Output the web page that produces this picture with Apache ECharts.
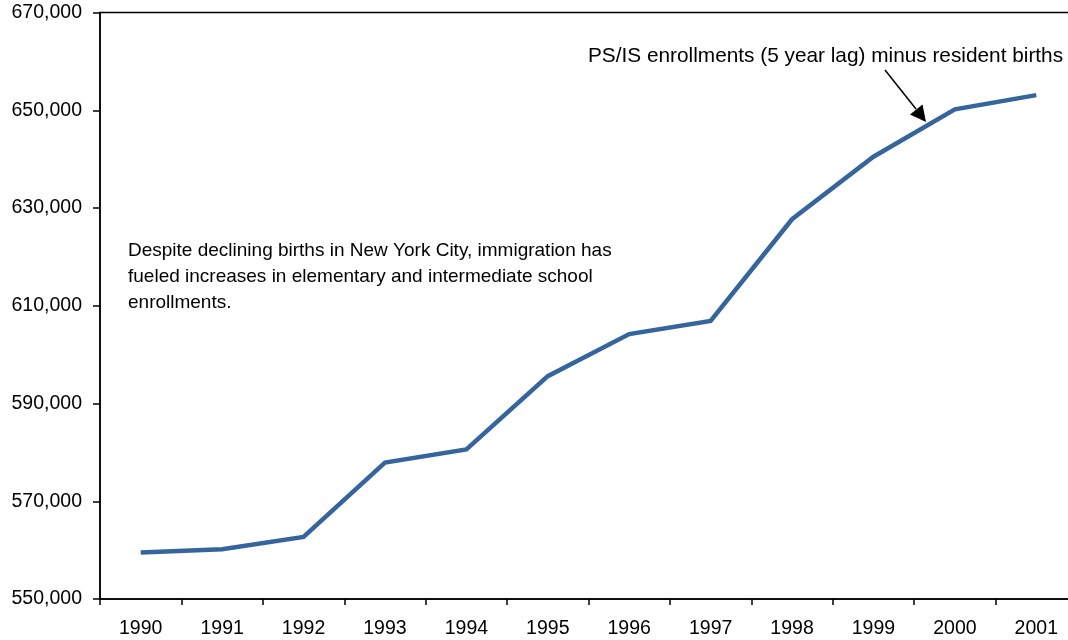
<!DOCTYPE html>
<html>
<head>
<meta charset="utf-8">
<script src="https://cdn.jsdelivr.net/npm/echarts@6/dist/echarts.min.js"></script>
<style>
  html, body { margin: 0; padding: 0; background: #fff; }
  #chart { width: 1068px; height: 640px; }
</style>
</head>
<body>
<div id="chart"></div>
<script>
// Data
const years = ['1990', '1991', '1992', '1993', '1994', '1995', '1996', '1997', '1998', '1999', '2000', '2001'];
const enrollmentsMinusBirths = [559500, 560200, 562700, 577900, 580600, 595600, 604200, 606900, 627700, 640500, 650200, 653100];
const yTicks = [550000, 570000, 590000, 610000, 630000, 650000, 670000];

const fontFamily = '"Liberation Sans", Arial, sans-serif';

const chart = echarts.init(document.getElementById('chart'), null, { renderer: 'canvas' });

const option = {
  animation: false,
  backgroundColor: '#fff',
  grid: {
    left: 100,
    top: 12.5,
    width: 977,
    height: 586.5,
    outerBoundsMode: 'none',
    containLabel: false,
    show: true,
    borderColor: '#000',
    borderWidth: 1.5,
    backgroundColor: 'transparent',
  },
  xAxis: {
    type: 'category',
    data: years,
    boundaryGap: true,
    axisLine: { lineStyle: { color: '#000', width: 1.5 } },
    axisTick: { show: true, length: 6, interval: 0, lineStyle: { color: '#000', width: 1.5 } },
    axisLabel: { color: '#000', fontSize: 19.5, fontFamily, margin: 20, interval: 0 },
    splitLine: { show: false },
  },
  yAxis: {
    type: 'value',
    min: yTicks[0],
    max: yTicks[yTicks.length - 1],
    axisLine: { show: true, lineStyle: { color: '#000', width: 1.5 } },
    axisTick: { show: true, length: 7, customValues: yTicks, lineStyle: { color: '#000', width: 1.5 } },
    axisLabel: {
      color: '#000',
      fontSize: 19.5,
      fontFamily,
      margin: 18,
      customValues: yTicks,
      formatter: (v) => v.toLocaleString('en-US'),
    },
    splitLine: { show: false },
  },
  series: [
    {
      name: 'PS/IS enrollments (5 year lag) minus resident births',
      type: 'line',
      data: enrollmentsMinusBirths,
      showSymbol: false,
      symbol: 'none',
      lineStyle: { color: '#35659c', width: 4.5, join: 'miter' },
      z: 3,
    },
  ],
  graphic: [
    {
      type: 'text',
      left: 128,
      top: 238,
      style: {
        text: 'Despite declining births in New York City, immigration has\nfueled increases in elementary and intermediate school\nenrollments.',
        fontSize: 19,
        fontFamily,
        fill: '#000',
        lineHeight: 26,
      },
    },
    {
      type: 'text',
      left: 588,
      top: 46,
      style: {
        text: 'PS/IS enrollments (5 year lag) minus resident births',
        fontSize: 20.8,
        fontFamily,
        fill: '#000',
      },
    },
    // annotation arrow
    {
      type: 'line',
      shape: { x1: 885, y1: 70, x2: 916, y2: 109 },
      style: { stroke: '#000', lineWidth: 1.5 },
    },
    {
      type: 'polygon',
      shape: { points: [[926, 122], [910, 114.5], [922.5, 104.5]] },
      style: { fill: '#000' },
    },
  ],
};

chart.setOption(option);
</script>
</body>
</html>
